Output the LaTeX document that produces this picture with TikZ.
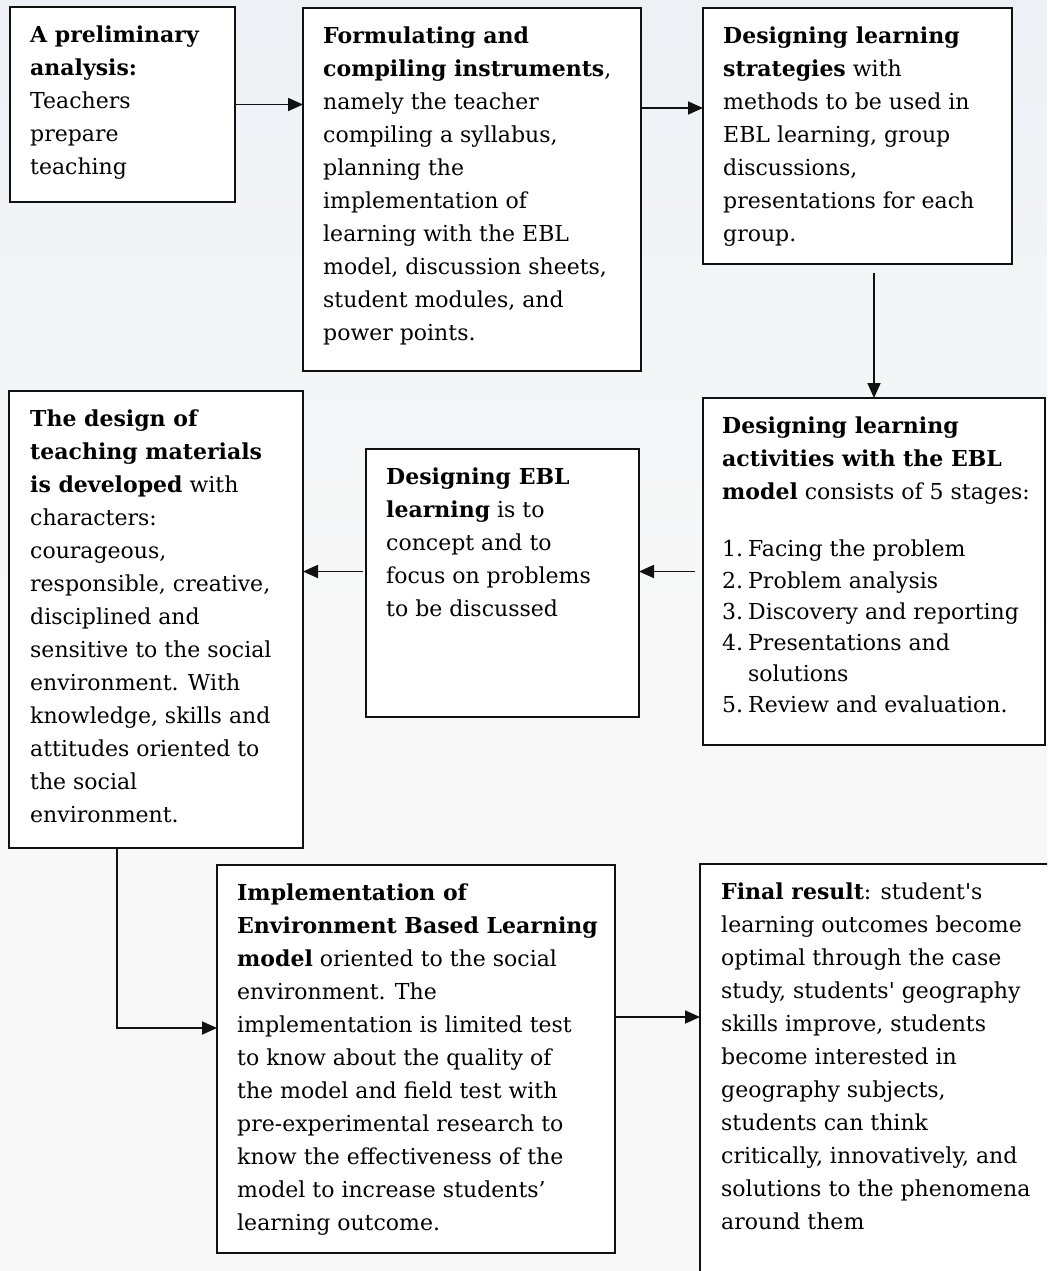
\documentclass[tikz,border=0pt]{standalone}
\usepackage{fontspec}
\setmainfont{DejaVu Serif}[Ligatures=TeXOff]
\usetikzlibrary{arrows.meta}
\definecolor{bgtop}{HTML}{EDF1F5}
\definecolor{bgbot}{HTML}{F8F8F8}
\definecolor{ink}{HTML}{111111}
\begin{document}
\begin{tikzpicture}[x=1pt,y=-1pt,
  box/.style={draw=ink, line width=1.8pt, fill=white, inner sep=0pt, outer sep=0pt, anchor=north west},
  txt/.style={inner sep=0pt, anchor=north west, align=left, font=\fontsize{22}{33}\selectfont},
  lst/.style={inner sep=0pt, anchor=north west, align=left, font=\fontsize{22}{31.2}\selectfont},
  arr/.style={draw=ink, line width=1.8pt, -{Triangle[length=15pt,width=13pt]}}]
\useasboundingbox (0,0) rectangle (1047,1271);
\clip (0,0) rectangle (1047,1271);
\fill[bgbot] (0,0) rectangle (1047,1271);
\shade[top color=bgtop, bottom color=bgbot] (0,0) rectangle (1047,620);

% boxes
\node[box, minimum width=225pt, minimum height=195pt] (b1) at (10,7) {};
\node[box, minimum width=338pt, minimum height=363pt] (b2) at (303,8) {};
\node[box, minimum width=309pt, minimum height=256pt] (b3) at (703,8) {};
\node[box, minimum width=342pt, minimum height=347pt] (b4) at (703,398) {};
\node[box, minimum width=273pt, minimum height=268pt] (b5) at (366,449) {};
\node[box, minimum width=294pt, minimum height=457pt] (b6) at (9,391) {};
\node[box, minimum width=398pt, minimum height=388pt] (b7) at (217,865) {};
\node[box, minimum width=420pt, minimum height=460pt] (b8) at (700,864) {};

% texts
\node[txt] (t1) at (30,26) {\textbf{A preliminary}\\\textbf{analysis:}\\Teachers\\prepare\\teaching};
\node[txt] (t2) at (323,27) {\textbf{Formulating and}\\\textbf{compiling instruments},\\namely the teacher\\compiling a syllabus,\\planning the\\implementation of\\learning with the EBL\\model, discussion sheets,\\student modules, and\\power points.};
\node[txt] (t3) at (723,27) {\textbf{Designing learning}\\\textbf{strategies} with\\methods to be used in\\EBL learning, group\\discussions,\\presentations for each\\group.};
\node[txt] (t4) at (722,417) {\textbf{Designing learning}\\\textbf{activities with the EBL}\\\textbf{model} consists of 5 stages:};
\node[lst] (t4l) at (722,540) {\makebox[26pt][l]{1.}Facing the problem\\\makebox[26pt][l]{2.}Problem analysis\\\makebox[26pt][l]{3.}Discovery and reporting\\\makebox[26pt][l]{4.}Presentations and\\\hspace*{26pt}solutions\\\makebox[26pt][l]{5.}Review and evaluation.};
\node[txt] (t5) at (386,468) {\textbf{Designing EBL}\\\textbf{learning} is to\\concept and to\\focus on problems\\to be discussed};
\node[txt] (t6) at (30,410) {\textbf{The design of}\\\textbf{teaching materials}\\\textbf{is developed} with\\characters:\\courageous,\\responsible, creative,\\disciplined and\\sensitive to the social\\environment. With\\knowledge, skills and\\attitudes oriented to\\the social\\environment.};
\node[txt] (t7) at (237,884) {\textbf{Implementation of}\\\textbf{Environment Based Learning}\\\textbf{model} oriented to the social\\environment. The\\implementation is limited test\\to know about the quality of\\the model and field test with\\pre-experimental research to\\know the effectiveness of the\\model to increase students’\\learning outcome.};
\node[txt] (t8) at (721,883) {\textbf{Final result}: student's\\learning outcomes become\\optimal through the case\\study, students' geography\\skills improve, students\\become interested in\\geography subjects,\\students can think\\critically, innovatively, and\\solutions to the phenomena\\around them};

% connectors
\coordinate (h2) at (0,108);
\coordinate (v6) at (117,1028);
\coordinate (h7) at (0,1017);
\draw[arr] (b1.east) -- (b1.east -| b2.west);
\draw[arr] (b2.east |- h2) -- (b3.west |- h2);
\draw[arr, shorten <=9pt] (b3.south -| b4.north) -- (b4.north);
\draw[arr, shorten <=8pt] (b4.west) -- (b4.west -| b5.east);
\draw[arr, shorten <=3pt] (b5.west |- b4.west) -- (b6.east |- b4.west);
\draw[arr] (b6.south -| v6) |- (b7.west |- v6);
\draw[arr] (b7.east |- h7) -- (b8.west |- h7);
\end{tikzpicture}
\end{document}
